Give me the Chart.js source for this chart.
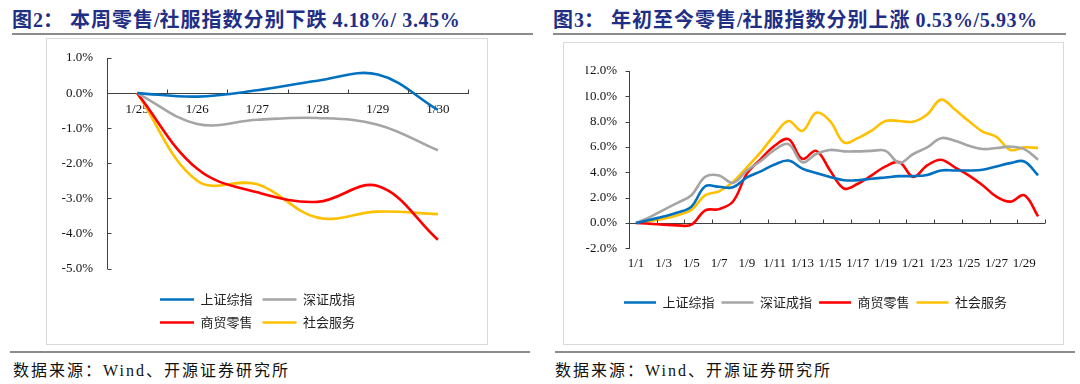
<!DOCTYPE html>
<html><head><meta charset="utf-8">
<script src="https://cdn.jsdelivr.net/npm/chart.js@4.4.1/dist/chart.umd.min.js"></script>
<style>
body{margin:0;width:1080px;height:384px;background:#fff;position:relative;overflow:hidden;font-family:"Liberation Serif","Noto Sans CJK SC",serif;}
.title{position:absolute;top:8px;font-size:20px;font-weight:bold;color:#1f2f86;white-space:nowrap;line-height:24px;}
.title .cj{letter-spacing:1px;}
.title .nm{letter-spacing:0.6px;}
.rule{position:absolute;height:2px;background:#8c8c8c;}
.frame{position:absolute;border:1px solid #d9d9d9;box-sizing:border-box;}
.frame canvas{position:absolute;left:0;top:0;}
.src{position:absolute;top:357px;font-size:16px;color:#111;white-space:nowrap;letter-spacing:2px;}
</style></head><body>
<div class="title" style="left:12px;"><span class="cj">图</span>2<span class="cj">：&nbsp;本周零售</span>/<span class="cj">社服指数分别下跌</span> <span class="nm">4.18%/ 3.45%</span></div>
<div class="rule" style="left:12px;top:33px;width:521px;"></div>
<div class="frame" style="left:46px;top:38px;width:442px;height:307px;"><canvas id="c1" width="440" height="305"></canvas></div>
<div class="rule" style="left:10px;top:351px;width:520px;"></div>
<div class="src" style="left:13px;">数据来源：Wind、开源证券研究所</div>

<div class="title" style="left:553px;"><span class="cj">图</span>3<span class="cj">：&nbsp;年初至今零售</span>/<span class="cj">社服指数分别上涨</span> <span class="nm">0.53%/5.93%</span></div>
<div class="rule" style="left:553px;top:33px;width:513px;"></div>
<div class="frame" style="left:563px;top:42px;width:501px;height:303px;"><canvas id="c2" width="499" height="301"></canvas></div>
<div class="rule" style="left:555px;top:351px;width:520px;"></div>
<div class="src" style="left:555px;">数据来源：Wind、开源证券研究所</div>

<script>
// ---------- Data ----------
const seriesNames = ['上证综指', '深证成指', '商贸零售', '社会服务'];
const seriesColors = ['#0070C0', '#A5A5A5', '#FF0000', '#FFC000'];

// Figure 2: this week (%)
const weekDates = ['1/25', '1/26', '1/27', '1/28', '1/29', '1/30'];
const weekSH = [0, -0.10, 0.08, 0.35, 0.53, -0.48];
const weekSZ = [0, -0.88, -0.76, -0.71, -0.90, -1.63];
const weekRetail = [0, -2.16, -2.83, -3.10, -2.65, -4.18];
const weekService = [0, -2.50, -2.60, -3.55, -3.38, -3.45];
const weekTicks = [-5, -4, -3, -2, -1, 0, 1];

// Figure 3: year to date (%)
const ytdDates = ['1/1','1/2','1/3','1/4','1/5','1/6','1/7','1/8','1/9','1/10','1/11','1/12','1/13','1/14','1/15',
  '1/16','1/17','1/18','1/19','1/20','1/21','1/22','1/23','1/24','1/25','1/26','1/27','1/28','1/29','1/30'];
const ytdSH = [0, 0.26, 0.52, 0.83, 1.30, 2.90, 2.86, 2.82, 3.60, 4.08, 4.62, 4.93, 4.30, 3.95, 3.64,
  3.38, 3.38, 3.50, 3.60, 3.70, 3.70, 3.80, 4.15, 4.15, 4.15, 4.20, 4.47, 4.73, 4.86, 3.77];
const ytdSZ = [0, 0.47, 1.04, 1.60, 2.20, 3.65, 3.75, 3.17, 4.15, 4.90, 5.77, 6.23, 4.80, 5.45, 5.77,
  5.66, 5.66, 5.70, 5.70, 4.75, 5.45, 5.97, 6.70, 6.50, 6.10, 5.84, 5.92, 6.03, 5.84, 5.00];
const ytdRetail = [0, -0.05, -0.13, -0.18, -0.13, 1.00, 1.10, 1.70, 3.90, 5.05, 6.10, 6.62, 5.06, 5.70, 4.15,
  2.73, 3.10, 3.77, 4.47, 4.80, 3.64, 4.55, 5.00, 4.40, 3.77, 2.99, 2.08, 1.69, 2.20, 0.53];
const ytdService = [0, 0.15, 0.34, 0.62, 1.04, 2.20, 2.50, 3.25, 4.40, 5.60, 6.96, 8.05, 7.27, 8.70, 8.05,
  6.36, 6.70, 7.30, 8.05, 8.05, 8.00, 8.57, 9.74, 8.96, 8.05, 7.22, 6.80, 5.77, 5.97, 5.93];
const ytdTicks = [-2, 0, 2, 4, 6, 8, 10, 12];

// ---------- Helpers ----------
const AXIS = '#404040';
const TICKFONT = {family: '"Liberation Serif", "Times New Roman", serif', size: 13};
const LEGFONT = {family: '"Noto Sans CJK SC", sans-serif', size: 13};

// let the legend of a given canvas wrap inside a narrower, centred band
const legendWrap = { c1: 260 };
const LegendEl = Chart.registry.getPlugin('legend')._element;
const origFit = LegendEl.prototype.fit;
const origDraw = LegendEl.prototype.draw;
const wrapOf = lg => legendWrap[lg.chart && lg.chart.canvas && lg.chart.canvas.id];
LegendEl.prototype.fit = function () {
  const w = wrapOf(this);
  if (w) this.maxWidth = Math.min(this.maxWidth, w);
  origFit.call(this);
};
LegendEl.prototype.draw = function () {
  const w = wrapOf(this);
  if (!w) return origDraw.call(this);
  const L = this.left, R = this.right;
  const d = Math.max(0, (R - L - w) / 2);
  this.left = L + d; this.right = R - d;
  origDraw.call(this);
  this.left = L; this.right = R;
};

const tickMarks = {
  id: 'tickMarks',
  afterDraw(chart, args, o) {
    const ctx = chart.ctx, xs = chart.scales.x, ys = chart.scales.y;
    const n = xs.getLabels().length;
    const y0 = Math.round(ys.getPixelForValue(0)) + 0.5;
    const ax = Math.round(chart.chartArea.left) + 0.5;
    ctx.save();
    ctx.strokeStyle = AXIS; ctx.lineWidth = 1;
    ctx.beginPath();
    for (let k = o.xStep; k <= n; k += o.xStep) {
      const px = Math.round(xs.getPixelForValue(k - 0.5)) + 0.5;
      ctx.moveTo(px, y0); ctx.lineTo(px, y0 - o.len);
    }
    ys.ticks.forEach(t => {
      const py = Math.round(ys.getPixelForValue(t.value)) + 0.5;
      ctx.moveTo(ax, py); ctx.lineTo(ax + o.yDir * o.len, py);
    });
    ctx.stroke();
    ctx.restore();
  }
};

function makeSets(arrs) {
  return arrs.map((d, i) => ({
    label: seriesNames[i], data: d,
    borderColor: seriesColors[i], backgroundColor: seriesColors[i],
    borderWidth: 2.6, pointRadius: 0, tension: 0.38, fill: false
  }));
}
const pct = v => Number(v).toFixed(1) + '%';

// ---------- Figure 2 ----------
new Chart(document.getElementById('c1'), {
  type: 'line',
  data: { labels: weekDates, datasets: makeSets([weekSH, weekSZ, weekRetail, weekService]) },
  plugins: [tickMarks],
  options: {
    responsive: false, animation: false,
    layout: { padding: { left: 0, right: 19, top: 19, bottom: 5 } },
    scales: {
      x: {
        type: 'category', offset: true, position: { y: 0 },
        grid: { display: true, drawOnChartArea: false, drawTicks: false },
        border: { display: true, color: AXIS, width: 1 },
        ticks: { color: '#111', font: TICKFONT, padding: 9, maxRotation: 0, autoSkip: false }
      },
      y: {
        min: -5, max: 1,
        afterFit: s => { s.width = 60; s.paddingTop = 0; s.paddingBottom = 0; },
        afterBuildTicks: s => { s.ticks = weekTicks.map(v => ({ value: v })); },
        grid: { display: false, drawTicks: false },
        border: { display: true, color: AXIS, width: 1 },
        ticks: { color: '#111', font: TICKFONT, padding: 14, callback: pct }
      }
    },
    plugins: {
      tooltip: { enabled: false },
      tickMarks: { xStep: 1, len: 4, yDir: 1 },
      legend: {
        position: 'bottom',
        title: { display: true, text: '', font: { size: 1, lineHeight: 1 }, padding: { top: 13.5, bottom: 0 } },
        labels: { usePointStyle: true, pointStyle: 'line', pointStyleWidth: 34, padding: 10, font: LEGFONT, color: '#222' }
      }
    }
  }
});

// ---------- Figure 3 ----------
new Chart(document.getElementById('c2'), {
  type: 'line',
  data: { labels: ytdDates, datasets: makeSets([ytdSH, ytdSZ, ytdRetail, ytdService]) },
  plugins: [tickMarks],
  options: {
    responsive: false, animation: false,
    layout: { padding: { left: 22, right: 18, top: 28, bottom: 25 } },
    scales: {
      x: {
        type: 'category', offset: true, position: 'bottom',
        grid: { display: false, drawTicks: false },
        border: { display: false },
        ticks: { color: '#111', font: TICKFONT, padding: 7, maxRotation: 0, autoSkip: false,
          callback: function (v, i) { return i % 2 === 0 ? this.getLabelForValue(v) : ''; } }
      },
      y: {
        min: -2, max: 12,
        afterFit: s => { s.width = 43; },
        afterBuildTicks: s => { s.ticks = ytdTicks.map(v => ({ value: v })); },
        grid: { display: true, drawTicks: false, color: c => (c.tick && c.tick.value === 0) ? AXIS : 'rgba(0,0,0,0)' },
        border: { display: true, color: AXIS, width: 1 },
        ticks: { color: '#111', font: TICKFONT, padding: 12, callback: pct }
      }
    },
    plugins: {
      tooltip: { enabled: false },
      tickMarks: { xStep: 2, len: 4, yDir: -1 },
      legend: {
        position: 'bottom',
        title: { display: true, text: '', font: { size: 1, lineHeight: 1 }, padding: { top: 10, bottom: 0 } },
        labels: { usePointStyle: true, pointStyle: 'line', pointStyleWidth: 32, padding: 7, font: LEGFONT, color: '#222' }
      }
    }
  }
});
</script>
</body></html>
